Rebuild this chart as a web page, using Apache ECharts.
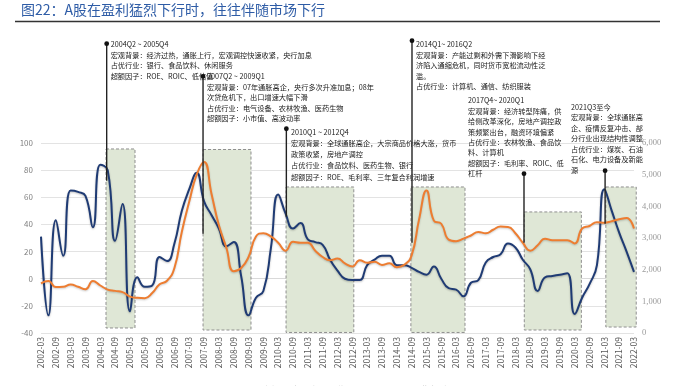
<!DOCTYPE html>
<html>
<head>
<meta charset="utf-8">
<script src="https://cdn.jsdelivr.net/npm/echarts@6/dist/echarts.min.js"></script>
<style>
html,body{margin:0;padding:0;background:#fff;}
#c{width:673px;height:386px;}
</style>
</head>
<body>
<div id="c"></div>
<script>
const quarters = [
'2002-03','2002-06','2002-09','2002-12','2003-03','2003-06','2003-09','2003-12',
'2004-03','2004-06','2004-09','2004-12','2005-03','2005-06','2005-09','2005-12',
'2006-03','2006-06','2006-09','2006-12','2007-03','2007-06','2007-09','2007-12',
'2008-03','2008-06','2008-09','2008-12','2009-03','2009-06','2009-09','2009-12',
'2010-03','2010-06','2010-09','2010-12','2011-03','2011-06','2011-09','2011-12',
'2012-03','2012-06','2012-09','2012-12','2013-03','2013-06','2013-09','2013-12',
'2014-03','2014-06','2014-09','2014-12','2015-03','2015-06','2015-09','2015-12',
'2016-03','2016-06','2016-09','2016-12','2017-03','2017-06','2017-09','2017-12',
'2018-03','2018-06','2018-09','2018-12','2019-03','2019-06','2019-09','2019-12',
'2020-03','2020-06','2020-09','2020-12','2021-03','2021-06','2021-09','2021-12',
'2022-03'
];

// 全部A股归母净利润增速(%)
const profitGrowth = [
31,-27,43,17,65,64,61,38,
84,80,28,55,-24,1,-6,-5,
16,13,26,50,66,78,57,47,
37,24,27,2,-27,-14,-9,22,
62,48,37,41,29,27,25,14,
6,0,-1,-1,10,14,17,17,
10,10,8,5,3,9,0,-7,
-8,-13,-3,-1,12,16,18,26,
23,14,7,-9,1,2,3,4,
-26,-14,-4,10,66,50,34,20,
5
];

// 上证指数(右轴)
const shIndex = [
1570,1640,1450,1460,1530,1460,1380,1640,
1500,1370,1330,1290,1150,1110,1100,1260,
1540,1650,2050,3200,4150,5000,5400,4400,
3400,2700,1950,2050,2400,3050,3150,3050,
2850,2600,2880,2850,2850,2600,2400,2300,
2350,2200,2100,2300,2220,2250,2150,2200,
2080,2150,2450,3580,4500,3550,3450,2950,
2900,2980,3080,3190,3150,3260,3360,3350,
3150,2850,2600,2770,2980,2930,2930,2930,
2830,3300,3380,3500,3480,3530,3590,3630,
3300
];

const legendNames = ['全部A股归母净利润增速(%)', '上证指数(右轴)'];
const titleText = '图22：A股在盈利猛烈下行时，往往伴随市场下行';

// shaded periods (quarter position on axis, left-axis value extents)
const boxStart  = [8.77, 21.86, 33.06, 49.9, 65.2, 76.2];
const boxEnd    = [12.68, 28.33, 42.2, 57.2, 72.9, 80.3];
const boxTop    = [95.6, 95.2, 67.6, 67.6, 49.2, 67.6];
const boxBottom = [-36.3, -37.8, -39.6, -39.6, -37.8, -35.6];

// annotation pins
const pinX      = [8.86, 21.86, 33.1, 50.05, 65.16, 76.1];
const pinTop    = [173.2, 149.1, 110.5, 175.4, 77.4, 79.6];
const pinBottom = [72.2, 33.2, 45.7, 26.5, 26.5, 40.5];
const noteX     = [9.4, 22.39, 33.73, 50.59, 57.6, 71.5];
const noteY     = [172.4, 148.9, 108.0, 172.4, 131.2, 126.7];
const noteText = [
  ['2004Q2 ~ 2005Q4','宏观背景：经济过热，通胀上行，宏观调控快速收紧，央行加息','占优行业：银行、食品饮料、休闲服务','超额因子：ROE、ROIC、低估值'],
  ['2007Q2 ~ 2009Q1','宏观背景：07年通胀高企，央行多次升准加息；08年','次贷危机下，出口增速大幅下滑','占优行业：电气设备、农林牧渔、医药生物','超额因子：小市值、高波动率'],
  ['2010Q1 ~ 2012Q4','宏观背景：全球通胀高企，大宗商品价格大涨，货币','政策收紧，房地产调控','占优行业：食品饮料、医药生物、银行','超额因子：ROE、毛利率、三年复合利润增速'],
  ['2014Q1~ 2016Q2','宏观背景：产能过剩和外需下滑影响下经','济陷入通缩危机，同时货币宽松流动性泛','滥。','占优行业：计算机、通信、纺织服装'],
  ['2017Q4~ 2020Q1','宏观背景：经济转型阵痛，供','给侧改革深化，房地产调控政','策频繁出台，融资环境偏紧','占优行业：农林牧渔、食品饮','料、计算机','超额因子：毛利率、ROIC、低','杠杆'],
  ['2021Q3至今','宏观背景：全球通胀高','企、疫情反复冲击、部','分行业出现结构性调整','占优行业：煤炭、石油','石化、电力设备及新能','源']
];
const noteLineH = [10.5, 10.5, 11.2, 10.5, 10.4, 10.5];

const FONT = '"Noto Sans CJK SC", "Noto Sans", sans-serif';

const chart = echarts.init(document.getElementById('c'), null, {renderer: 'canvas'});

const option = {
  animation: false,
  backgroundColor: '#ffffff',
  title: {
    text: titleText,
    left: 21, top: 3, padding: 0,
    textStyle: {fontFamily: FONT, fontSize: 14, fontWeight: 'normal', color: '#2e5ca6'}
  },
  graphic: [{
    type: 'line',
    shape: {x1: 15, y1: 21.5, x2: 660, y2: 21.5},
    style: {stroke: '#333333', lineWidth: 1.3}
  }],
  legend: {
    data: legendNames,
    left: 226, top: 379.5,
    itemWidth: 26, itemHeight: 11, itemGap: 8,
    icon: 'path://M0,0L0.01,0L0.01,0.01Z M0,10L26,10L26,11L0,11Z',
    textStyle: {fontFamily: FONT, fontSize: 8.5, color: '#404040'}
  },
  grid: {left: 41, right: 39, top: 143, bottom: 53},
  xAxis: [{
    type: 'category',
    data: quarters,
    boundaryGap: false,
    axisLine: {lineStyle: {color: '#d9d9d9'}},
    axisTick: {show: false},
    axisLabel: {interval: 1, rotate: 90, margin: 4, fontSize: 8.5, color: '#595959', fontFamily: FONT}
  }, {
    type: 'value', min: 0, max: 80, show: false
  }],
  yAxis: [{
    type: 'value', min: -40, max: 100, interval: 20,
    axisLine: {show: false}, axisTick: {show: false},
    axisLabel: {fontSize: 8, color: '#808080', margin: 8, fontFamily: FONT},
    splitLine: {lineStyle: {color: '#e3e3e3', width: 1}}
  }, {
    type: 'value', min: 0, max: 6000, interval: 1000,
    axisLine: {show: false}, axisTick: {show: false},
    axisLabel: {fontSize: 8.5, color: '#9a9a9a', margin: 8, fontFamily: '"Liberation Serif", serif'},
    splitLine: {show: false}
  }],
  series: [
    {
      type: 'custom', name: 'periods',
      xAxisIndex: 1, yAxisIndex: 0, z: 1, silent: true,
      data: boxStart.map((s, i) => [s, boxTop[i]]),
      renderItem: function (params, api) {
        const i = params.dataIndex;
        const p0 = api.coord([boxStart[i], boxTop[i]]);
        const p1 = api.coord([boxEnd[i], boxBottom[i]]);
        return {
          type: 'rect',
          shape: {x: p0[0], y: p0[1], width: p1[0] - p0[0], height: p1[1] - p0[1]},
          style: {fill: '#dfe7d6', stroke: '#8f8f8f', lineWidth: 1, lineDash: [3, 2]}
        };
      }
    },
    {
      name: legendNames[0], type: 'line', data: profitGrowth,
      xAxisIndex: 0, yAxisIndex: 0, smooth: 0.5, symbol: 'none', z: 3,
      lineStyle: {color: '#1f3b74', width: 2, shadowColor: 'rgba(0,0,0,0.25)', shadowBlur: 2, shadowOffsetY: 1},
      itemStyle: {color: '#1f3b74'}
    },
    {
      name: legendNames[1], type: 'line', data: shIndex,
      xAxisIndex: 0, yAxisIndex: 1, smooth: 0.5, symbol: 'none', z: 3,
      lineStyle: {color: '#ed7d31', width: 2, shadowColor: 'rgba(0,0,0,0.2)', shadowBlur: 2, shadowOffsetY: 1},
      itemStyle: {color: '#ed7d31'}
    },
    {
      type: 'custom', name: 'notes',
      xAxisIndex: 1, yAxisIndex: 0, z: 5, silent: true, clip: false,
      data: pinX.map((x, i) => [x, 0]),
      renderItem: function (params, api) {
        const i = params.dataIndex;
        const top = api.coord([pinX[i], pinTop[i]]);
        const bot = api.coord([pinX[i], pinBottom[i]]);
        const t = api.coord([noteX[i], noteY[i]]);
        const lh = noteLineH[i];
        return {
          type: 'group',
          children: [
            {
              type: 'text',
              style: {
                text: noteText[i].join('\n'),
                x: t[0], y: t[1] - lh / 2,
                fontSize: 7.2, lineHeight: lh, fontFamily: FONT,
                fill: '#1a1a1a', textVerticalAlign: 'top', verticalAlign: 'top'
              }
            },
            {
              type: 'line',
              shape: {x1: top[0], y1: top[1], x2: bot[0], y2: bot[1]},
              style: {stroke: '#222222', lineWidth: 1.4}
            },
            {
              type: 'circle',
              shape: {cx: top[0], cy: top[1], r: 2.4},
              style: {fill: '#111111'}
            }
          ]
        };
      }
    }
  ]
};
chart.setOption(option);
</script>
</body>
</html>
